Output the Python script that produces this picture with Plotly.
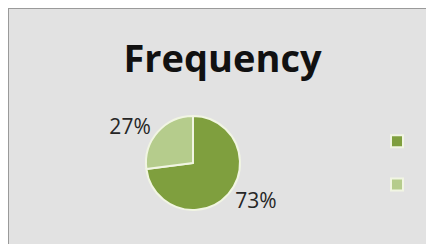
import plotly.graph_objects as go

# The page body adds an 8px margin, so the figure is sized to fill the rest.
W, H = 426, 236

# data
categories = [" ", "  "]          # category names are not shown in the reference legend
values = [73, 27]
colors = ["#7f9f3e", "#b5cc8c"]
title_text = "Frequency"

cx, cy, r = 185, 155, 47

fig = go.Figure(
    go.Pie(
        labels=categories,
        values=values,
        sort=False,
        direction="clockwise",
        rotation=0,
        marker=dict(colors=colors, line=dict(color="#f1f5e3", width=2)),
        textinfo="percent",
        texttemplate="%{percent:.0%}",
        textposition="outside",
        outsidetextfont=dict(family="Open Sans", size=21, color="#262626"),
        domain=dict(x=[cx/W - 0.3, cx/W + 0.3], y=[(H-cy)/H - r/H, (H-cy)/H + r/H]),
        hoverinfo="skip",
        automargin=False,
    )
)

fig.update_layout(
    width=W,
    height=H,
    margin=dict(l=0, r=0, t=0, b=0, autoexpand=False),
    paper_bgcolor="#e2e2e2",
    title=dict(
        text="<b>" + title_text + "</b>",
        font=dict(family="Open Sans", size=38, color="#111111"),
        x=214.5/W, xanchor="center",
        y=1 - 51/H, yanchor="middle",
        yref="paper", xref="paper",
        automargin=False,
    ),
    showlegend=True,
    legend=dict(
        x=1 + 5/W, xanchor="right",
        y=(H-155)/H, yanchor="middle",
        bgcolor="rgba(0,0,0,0)",
        font=dict(size=31, color="#333333"),
        itemwidth=30,
    ),
    shapes=[
        dict(type="line", xref="paper", yref="paper",
             x0=0, x1=1, y0=1, y1=1, line=dict(color="#9a9a9a", width=2), layer="below"),
        dict(type="line", xref="paper", yref="paper",
             x0=0, x1=0, y0=0, y1=1, line=dict(color="#9a9a9a", width=2), layer="below"),
    ],
)

fig.write_html("out.html")
